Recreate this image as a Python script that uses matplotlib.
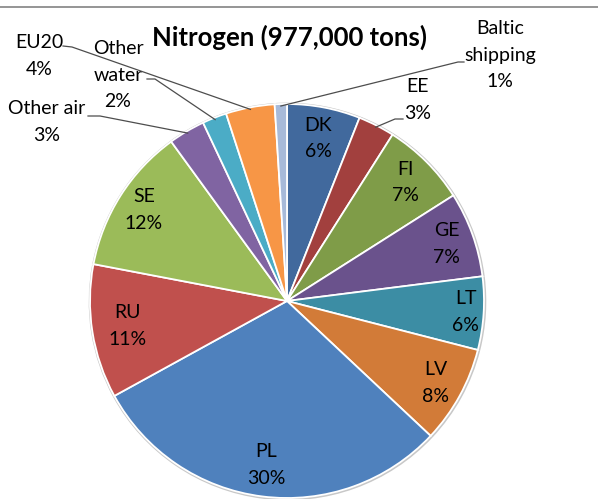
import matplotlib
matplotlib.use("Agg")
import matplotlib.pyplot as plt
from matplotlib.lines import Line2D
import numpy as np

categories = ["DK", "EE", "FI", "GE", "LT", "LV", "PL", "RU", "SE",
              "Other air", "Other water", "EU20", "Baltic shipping"]
shares = [6, 3, 7, 7, 6, 8, 30, 11, 12, 3, 2, 4, 1]
pct_labels = ["6%", "3%", "7%", "7%", "6%", "8%", "30%", "11%", "12%",
              "3%", "2%", "4%", "1%"]
colors = ["#41699D", "#A2403E", "#7F9C48", "#6A528C", "#3C8DA4", "#D27B38",
          "#4F81BD", "#C0504D", "#9BBB59", "#8064A2", "#4BACC6", "#F79646",
          "#A7BAD9"]
explode = [0, 0, 0, 0, 0, 0, 0, 0, 0, 0.08, 0.08, 0.08, 0.08]
title = "Nitrogen (977,000 tons)"

W, H = 598, 499
FONT = ["Lato", "DejaVu Sans"]
plt.rcParams["font.family"] = FONT

fig = plt.figure(figsize=(W / 100, H / 100), dpi=100)
ax = fig.add_axes([0, 0, 1, 1])

cx, cy, R = 287, H - 301, 197

# shadow rim
ax.pie(shares, explode=explode, colors=["#c8c8c8"] * len(shares),
       startangle=90, counterclock=False, center=(cx + 0.5, cy - 0.5),
       radius=R + 1.8, wedgeprops=dict(linewidth=0), frame=True)
wedges, _ = ax.pie(shares, explode=explode, colors=colors, startangle=90,
                   counterclock=False, center=(cx, cy), radius=R,
                   wedgeprops=dict(edgecolor="white", linewidth=1.3),
                   frame=True)

ax.set_xlim(0, W)
ax.set_ylim(0, H)
ax.set_aspect("equal")
ax.axis("off")

fs = 14
ls = 1.7
inside = {"DK": 0.84, "FI": 0.85, "GE": 0.86, "LT": 0.91, "LV": 0.86,
          "PL": 0.84, "RU": 0.82, "SE": 0.86}
for w, cat, pl in zip(wedges, categories, pct_labels):
    if cat in inside:
        ang = np.deg2rad((w.theta1 + w.theta2) / 2)
        d = inside[cat] * R
        x = w.center[0] + d * np.cos(ang)
        y = w.center[1] + d * np.sin(ang)
        ax.text(x, y, f"{cat}\n{pl}", ha="center", va="center", fontsize=fs,
                linespacing=ls, color="#000000")

# outside labels: (text center in image px, leader path in image px)
outside = {
    "EE": ((418, 100), [(403, 119), (395, 119)]),
    "Baltic shipping": ((500, 55), [(464, 62), (458, 62)]),
    "EU20": ((39, 56), [(63, 46), (72, 47)]),
    "Other water": ((118, 75), [(147, 79), (155, 79)]),
    "Other air": ((47, 122), [(88, 116), (100, 116)]),
}
text_for = {
    "EE": "EE\n3%",
    "Baltic shipping": "Baltic\nshipping\n1%",
    "EU20": "EU20\n4%",
    "Other water": "Other\nwater\n2%",
    "Other air": "Other air\n3%",
}
for w, cat in zip(wedges, categories):
    if cat in outside:
        (tx, ty), path = outside[cat]
        ax.text(tx, H - ty, text_for[cat], ha="center", va="center",
                fontsize=fs, linespacing=ls, color="#000000")
        ang = np.deg2rad((w.theta1 + w.theta2) / 2)
        ex = w.center[0] + (w.r - 2) * np.cos(ang)
        ey = w.center[1] + (w.r - 2) * np.sin(ang)
        xs = [p[0] for p in path] + [ex]
        ys = [H - p[1] for p in path] + [ey]
        ax.plot(xs, ys, color="#4d4d4d", lw=0.9, zorder=5)

ax.text(289, H - 37, title, ha="center", va="center", fontsize=18.5,
        fontweight="bold", color="#000000")

fig.add_artist(Line2D([0, 1], [1 - 7 / H, 1 - 7 / H], transform=fig.transFigure,
                      color="#8c8c8c", lw=1.3))

fig.savefig("out.png", dpi=100)
